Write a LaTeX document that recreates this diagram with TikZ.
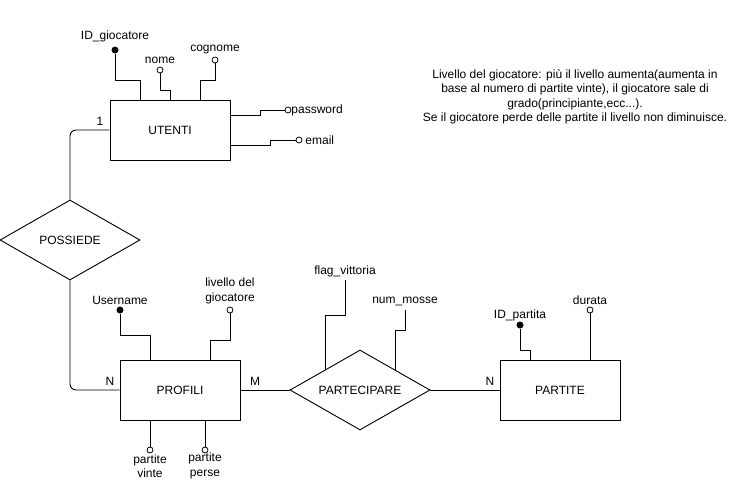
\documentclass[tikz,border=0pt]{standalone}
\usepackage{fontspec}
\setmainfont{Liberation Sans}
\usetikzlibrary{shapes.geometric}
\begin{document}
\begin{tikzpicture}[x=1pt,y=-1pt,
  font=\fontsize{12}{14.4}\selectfont,
  line width=0.9pt,
  ent/.style={draw, minimum width=120pt, minimum height=60pt, inner sep=0pt},
  rel/.style={draw, diamond, aspect=1.75, minimum width=140pt, minimum height=80pt, inner sep=0pt},
  attro/.style={draw, circle, fill=white, minimum size=6pt, inner sep=0pt, line width=0.8pt},
  attrk/.style={circle, fill=black, minimum size=7pt, inner sep=0pt},
  lbl/.style={inner sep=0pt, align=center}]
\useasboundingbox (0,0) rectangle (731,482);

% entities and relations
\node[ent] (ut) at (170,130) {UTENTI};
\node[ent] (pr) at (180,390) {PROFILI};
\node[ent] (pt) at (560,390) {PARTITE};
\node[rel] (pos) at (70,240) {POSSIEDE};
\node[rel] (pa) at (360,390) {PARTECIPARE};

% anchor coordinates
\coordinate (uA) at (140,100);
\coordinate (uB) at (170,100);
\coordinate (uC) at (200,100);
\coordinate (uD) at (230,115);
\coordinate (uE) at (230,145);
\coordinate (pA) at (150,360);
\coordinate (pB) at (210,360);
\coordinate (pC) at (150,420);
\coordinate (pD) at (205,420);
\coordinate (paA) at (325,370);
\coordinate (paB) at (395,370);
\coordinate (fvE) at (345,280);
\coordinate (nmE) at (405,310);
\coordinate (tA) at (530,360);
\coordinate (tB) at (590,360);

% attribute markers
\node[attrk] (idg) at (115,50) {};
\node[attro] (nm) at (160,70) {};
\node[attro] (cg) at (215,60) {};
\node[attro] (pw) at (288,110) {};
\node[attro] (em) at (299,140) {};
\node[attrk] (un) at (120,310) {};
\node[attro] (lv) at (230,310) {};
\node[attro] (pv) at (150,450) {};
\node[attro] (pp) at (205,450) {};
\node[attrk] (ip) at (520,325) {};
\node[attro] (du) at (590,310) {};

% attribute connectors
\draw (idg) -- (115,80) -| (uA);
\draw (nm) -- (160,90) -| (uB);
\draw (cg) -- (215,80) -| (uC);
\draw (uD) -- (260,115) |- (pw);
\draw (uE) -- (270,145) |- (em);
\draw (un) -- (120,335) -| (pA);
\draw (lv) -- (230,340) -| (pB);
\draw (pC) -- (pv);
\draw (pD) -- (pp);
\draw (paA) -- (325,315) -| (fvE);
\draw (paB) -- (395,330) -| (nmE);
\draw (ip) -- (520,350) -| (tA);
\draw (du) -- (tB);

% relationship connectors
\draw[rounded corners=6pt] (ut.west) -| (pos.north);
\draw[rounded corners=6pt] (pos.south) |- (pr.west);
\draw (pr.east) -- (pa.west);
\draw (pa.east) -- (pt.west);

% labels
\node[lbl] (l1) at (115,36) {ID\_giocatore};
\node[lbl] (l2) at (160,60) {nome};
\node[lbl] (l3) at (215,50) {cognome};
\node[lbl, anchor=west] (l4) at (291,110) {password};
\node[lbl, anchor=west] (l5) at (305,140) {email};
\node[lbl] (l6) at (120,300) {Username};
\node[lbl] (l7) at (230,291) {livello del\\giocatore};
\node[lbl] (l8) at (150,466) {partite\\vinte};
\node[lbl] (l9) at (205,466) {partite\\perse};
\node[lbl] (l10) at (345,271) {flag\_vittoria};
\node[lbl] (l11) at (405,301) {num\_mosse};
\node[lbl] (l12) at (520,315) {ID\_partita};
\node[lbl] (l13) at (590,300) {durata};

% cardinalities
\node[lbl] (c1) at (100,121) {1};
\node[lbl] (c2) at (110,381) {N};
\node[lbl] (c3) at (255,381) {M};
\node[lbl] (c4) at (490,381) {N};

% note
\node[lbl] (note) at (575,97) {Livello del giocatore: più il livello aumenta(aumenta in\\base al numero di partite vinte), il giocatore sale di\\grado(principiante,ecc...).\\Se il giocatore perde delle partite il livello non diminuisce.};
\end{tikzpicture}
\end{document}
